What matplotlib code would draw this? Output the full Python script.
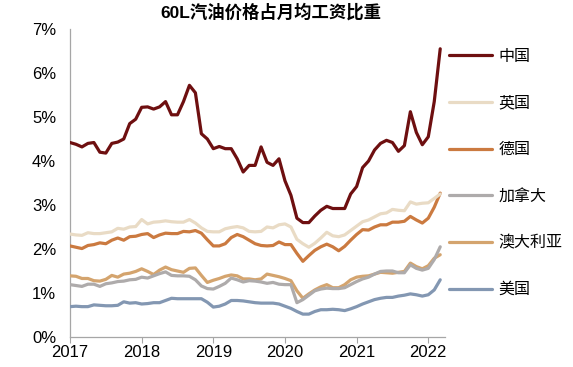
import matplotlib
matplotlib.use("Agg")
import matplotlib.pyplot as plt
import numpy as np

plt.rcParams['font.family'] = ['Liberation Sans', 'Noto Sans CJK SC', 'DejaVu Sans']

title = "60L汽油价格占月均工资比重"
year_labels = ["2017", "2018", "2019", "2020", "2021", "2022"]
series_names = ["中国", "英国", "德国", "加拿大", "澳大利亚", "美国"]

# monthly values, Jan 2017 .. Mar 2022 (%)
china = [4.42, 4.38, 4.32, 4.40, 4.42, 4.20, 4.18, 4.40, 4.43, 4.50,
         4.85, 4.95, 5.22, 5.23, 5.18, 5.23, 5.35, 5.05, 5.05, 5.35,
         5.72, 5.55, 4.62, 4.50, 4.28, 4.33, 4.28, 4.28, 4.05, 3.75,
         3.90, 3.90, 4.32, 3.97, 3.90, 4.05, 3.55, 3.22, 2.70, 2.60,
         2.60, 2.75, 2.88, 2.97, 2.92, 2.92, 2.92, 3.25, 3.42, 3.85,
         4.00, 4.25, 4.40, 4.47, 4.42, 4.22, 4.35, 5.12, 4.65, 4.37,
         4.55, 5.35, 6.55]
uk = [2.34, 2.32, 2.31, 2.37, 2.35, 2.35, 2.37, 2.39, 2.47, 2.45,
      2.50, 2.51, 2.67, 2.57, 2.61, 2.62, 2.64, 2.62, 2.61, 2.61,
      2.67, 2.59, 2.48, 2.40, 2.39, 2.39, 2.46, 2.49, 2.51, 2.48,
      2.40, 2.39, 2.40, 2.50, 2.48, 2.55, 2.57, 2.50, 2.22, 2.12,
      2.04, 2.13, 2.25, 2.38, 2.30, 2.28, 2.32, 2.42, 2.52, 2.62,
      2.66, 2.73, 2.80, 2.82, 2.90, 2.88, 2.87, 3.07, 3.02, 3.04,
      3.05, 3.15, 3.25]
germany = [2.07, 2.04, 2.01, 2.08, 2.10, 2.14, 2.12, 2.20, 2.25, 2.20,
           2.28, 2.29, 2.33, 2.35, 2.26, 2.32, 2.36, 2.35, 2.35, 2.40,
           2.39, 2.42, 2.36, 2.21, 2.07, 2.07, 2.12, 2.26, 2.33, 2.28,
           2.20, 2.12, 2.08, 2.07, 2.08, 2.16, 2.10, 2.10, 1.90, 1.72,
           1.85, 1.97, 2.05, 2.11, 2.05, 1.96, 2.06, 2.20, 2.33, 2.44,
           2.43, 2.50, 2.55, 2.55, 2.61, 2.61, 2.63, 2.74, 2.66, 2.59,
           2.70, 2.95, 3.27]
canada = [1.19, 1.17, 1.15, 1.20, 1.20, 1.15, 1.21, 1.23, 1.26, 1.27,
          1.30, 1.31, 1.36, 1.34, 1.39, 1.44, 1.48, 1.40, 1.39, 1.39,
          1.38, 1.30, 1.16, 1.10, 1.09, 1.15, 1.22, 1.34, 1.30, 1.25,
          1.28, 1.27, 1.25, 1.22, 1.24, 1.20, 1.19, 1.19, 0.78, 0.85,
          0.95, 1.05, 1.09, 1.11, 1.10, 1.10, 1.12, 1.19, 1.26, 1.32,
          1.36, 1.43, 1.49, 1.50, 1.50, 1.46, 1.46, 1.64, 1.56, 1.52,
          1.56, 1.76, 2.05]
australia = [1.39, 1.38, 1.33, 1.33, 1.28, 1.27, 1.31, 1.40, 1.36, 1.43,
             1.45, 1.49, 1.55, 1.49, 1.42, 1.52, 1.59, 1.53, 1.50, 1.47,
             1.56, 1.57, 1.40, 1.24, 1.29, 1.33, 1.38, 1.41, 1.39, 1.32,
             1.32, 1.30, 1.32, 1.43, 1.40, 1.37, 1.33, 1.28, 1.05, 0.88,
             0.98, 1.07, 1.14, 1.19, 1.12, 1.12, 1.19, 1.30, 1.36, 1.38,
             1.39, 1.43, 1.47, 1.46, 1.45, 1.47, 1.49, 1.68, 1.60, 1.55,
             1.62, 1.79, 1.87]
usa = [0.69, 0.70, 0.69, 0.69, 0.73, 0.72, 0.71, 0.71, 0.72, 0.80,
       0.77, 0.78, 0.75, 0.76, 0.78, 0.78, 0.83, 0.88, 0.87, 0.87,
       0.87, 0.87, 0.87, 0.79, 0.68, 0.70, 0.75, 0.83, 0.83, 0.82,
       0.80, 0.78, 0.77, 0.77, 0.77, 0.75, 0.70, 0.65, 0.58, 0.52,
       0.52, 0.58, 0.62, 0.62, 0.63, 0.62, 0.60, 0.64, 0.69, 0.75,
       0.80, 0.85, 0.88, 0.90, 0.90, 0.93, 0.95, 0.98, 0.96, 0.93,
       0.96, 1.07, 1.30]

colors = ['#6E0F10', '#E9DBC5', '#CB7A40', '#AEABAB', '#D4A46E', '#8397B2']
data = [china, uk, germany, canada, australia, usa]

fig = plt.figure(figsize=(5.73, 3.67), dpi=100)
ax = fig.add_axes([70/573, 1-337/367, (445-70)/573, (337-29)/367])

months = np.arange(len(china))
# draw bottom-most first so china is on top
order = [5, 3, 4, 1, 2, 0]
handles = {}
for i in order:
    (ln,) = ax.plot(months, data[i], color=colors[i], lw=2.3,
                    solid_joinstyle='round', solid_capstyle='round',
                    label=series_names[i], zorder=3 + (6 - i))
    handles[i] = ln

ax.set_xlim(0, 62.8)
ax.set_ylim(0, 7)
ax.set_xticks(np.arange(len(year_labels)) * 12)
ax.set_xticklabels(year_labels)
ax.set_yticks(np.arange(0, 8))
ax.set_yticklabels([f"{v}%" for v in range(8)])
ax.tick_params(axis='x', direction='out', length=4, width=0.8,
               color='#A6A6A6', labelsize=12, pad=2)
ax.tick_params(axis='y', length=0, labelsize=12, pad=10)
for s in ['top', 'right']:
    ax.spines[s].set_visible(False)
for s in ['left', 'bottom']:
    ax.spines[s].set_color('#A6A6A6')
    ax.spines[s].set_linewidth(0.9)

fig.text(271/573, 1-12/367, title, ha='center', va='center',
         fontsize=12.5, fontweight='bold')

leg = fig.legend([handles[i] for i in range(6)], series_names,
                 loc='upper left', bbox_to_anchor=(449/573, 1-49/367),
                 frameon=False, fontsize=11.5, handlelength=2.7,
                 handletextpad=0.4, labelspacing=1.98, borderpad=0,
                 borderaxespad=0)
for ln in leg.get_lines():
    ln.set_linewidth(2.3)

fig.savefig('out.png', dpi=100)
